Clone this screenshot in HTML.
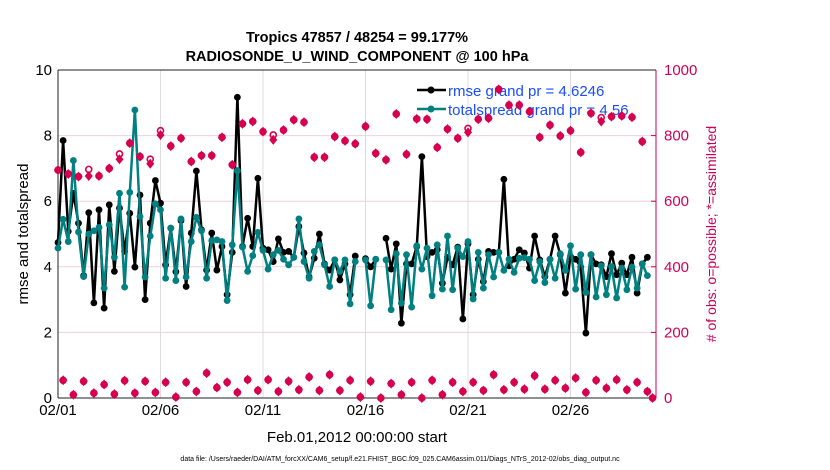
<!DOCTYPE html>
<html><head><meta charset="utf-8"><style>
body{margin:0;background:#fff;}
svg{display:block;font-family:"Liberation Sans",Arial,sans-serif;}
</style></head><body>
<svg id="chart" width="830" height="470" viewBox="0 0 830 470">
<rect width="830" height="470" fill="#fff"/>
<g id="grid"></g>
<g id="axes"></g>
<g id="legend">
  <line x1="417" y1="90" x2="446" y2="90" stroke="#000" stroke-width="2.5"/>
  <circle cx="431" cy="90" r="3.5" fill="#000"/>
  <text x="448" y="96" font-size="15" fill="#1a4dff">rmse grand pr = 4.6246</text>
  <line x1="417" y1="109" x2="446" y2="109" stroke="#008080" stroke-width="2.5"/>
  <circle cx="431" cy="109" r="3.5" fill="#008080"/>
  <text x="448" y="115" font-size="15" fill="#1a4dff">totalspread grand pr = 4.56</text>
</g>
<g id="series"></g>
<g id="obs"></g>
<text x="357" y="42" font-size="14.5" font-weight="bold" text-anchor="middle">Tropics 47857 / 48254 = 99.177%</text>
<text x="357" y="61" font-size="14.5" font-weight="bold" text-anchor="middle">RADIOSONDE_U_WIND_COMPONENT @ 100 hPa</text>
<text transform="translate(28,234) rotate(-90)" font-size="15" text-anchor="middle">rmse and totalspread</text>
<text transform="translate(716,234) rotate(-90)" font-size="14" fill="#cc0055" text-anchor="middle"># of obs: o=possible; *=assimilated</text>
<text x="357" y="442" font-size="15" text-anchor="middle">Feb.01,2012 00:00:00 start</text>
<text x="400" y="461" font-size="7" text-anchor="middle">data file: /Users/raeder/DAI/ATM_forcXX/CAM6_setup/f.e21.FHIST_BGC.f09_025.CAM6assim.011/Diags_NTrS_2012-02/obs_diag_output.nc</text>
</svg>
<script>
const rmse=[4.74,7.85,5.08,6.24,5.33,3.73,5.65,2.9,5.74,2.74,5.89,3.86,5.79,4.47,5.63,3.99,6.19,3.0,5.33,6.63,5.94,4.06,5.18,3.85,5.41,3.4,5.03,6.92,5.13,3.9,5.03,3.9,4.62,3.15,4.44,9.17,4.62,5.48,4.62,6.7,4.57,4.52,4.16,4.85,4.44,4.47,4.29,5.23,4.42,3.69,4.26,5.0,4.09,3.9,4.21,3.6,4.09,3.15,4.33,null,4.25,4.0,4.23,null,4.87,3.93,4.7,2.28,4.09,4.09,4.62,7.36,4.31,4.44,4.52,3.5,4.29,4.06,4.6,2.41,4.7,3.15,4.23,3.55,4.47,4.44,4.44,6.67,4.03,4.23,4.52,4.42,3.96,4.94,4.21,3.7,4.23,4.94,4.37,3.2,4.31,4.23,3.99,1.98,4.37,4.09,4.06,3.7,4.4,3.76,4.11,3.76,4.29,3.2,4.09,4.29,null];
const spread=[4.57,5.45,4.77,7.24,5.06,3.7,5.0,5.1,5.2,3.35,5.28,4.29,6.24,3.38,6.27,8.78,5.53,3.69,4.94,5.92,5.74,3.65,5.18,3.58,5.46,3.69,4.77,5.51,5.1,3.65,4.8,4.82,4.77,2.97,4.67,6.93,4.6,3.86,4.34,5.05,4.5,3.93,4.37,4.5,4.23,4.06,4.29,5.46,4.16,3.65,4.47,4.67,4.06,3.4,4.21,3.86,4.21,2.87,4.16,null,4.21,2.81,4.23,null,4.21,2.69,4.4,2.89,4.37,2.77,4.64,3.93,4.57,3.12,4.67,3.32,4.94,3.3,4.57,4.31,4.77,3.02,4.44,3.35,4.37,3.69,4.44,3.89,4.23,3.83,4.26,4.28,4.23,3.58,4.16,3.52,4.23,3.65,4.4,3.89,4.64,3.32,4.37,3.22,4.37,3.08,4.03,3.15,4.01,3.05,3.96,3.3,3.99,3.35,4.09,3.73,null];
const obsUsed=[695,54,683,10,675,51,677,15,677,41,700,12,728,53,777,15,736,51,714,17,802,48,768,3,792,48,721,20,739,76,739,32,795,48,711,17,836,56,843,23,812,56,787,20,817,51,848,25,841,64,734,23,734,71,797,23,784,54,775,3,828,51,746,0,726,44,866,10,743,48,851,0,850,54,764,10,820,48,792,20,810,48,850,23,853,71,941,25,893,48,893,27,873,68,795,27,832,54,799,30,815,61,749,17,868,54,843,30,858,56,860,25,856,48,782,20,0];
const obsPossible=[695,54,683,10,675,51,697,15,677,41,700,12,744,53,777,15,736,51,728,17,815,48,768,3,792,48,721,20,739,76,739,32,795,48,711,17,836,56,843,23,812,56,802,20,817,51,848,25,841,64,734,23,734,71,797,23,784,54,775,3,828,51,746,0,726,44,866,10,743,48,851,0,850,54,764,10,820,48,792,20,822,48,850,23,853,71,941,25,893,48,893,27,873,68,795,27,832,54,799,30,815,61,749,17,868,54,855,30,858,56,860,25,856,48,782,20,0];
const xTickDays=[1,6,11,16,21,26];
const xTickLabels=["02/01","02/06","02/11","02/16","02/21","02/26"];
const yTicks=[0,2,4,6,8,10];
const y2Ticks=[0,200,400,600,800,1000];
const startDay=1, stepDay=0.25;

const NS="http://www.w3.org/2000/svg";
const L=58,R=656,T=70,B=398;
const X=d=>L+(d-1)*20.5;
const Y=v=>B-(v/10)*(B-T);
const Y2=v=>B-(v/1000)*(B-T);
function mk(tag,attrs,parent){const e=document.createElementNS(NS,tag);for(const k in attrs)e.setAttribute(k,attrs[k]);parent.appendChild(e);return e;}
const grid=document.getElementById('grid'),axes=document.getElementById('axes'),ser=document.getElementById('series'),obs=document.getElementById('obs');
xTickDays.forEach((d,i)=>{
  const gl=mk('line',{x1:X(d),x2:X(d),y1:T,y2:B,stroke:'#dcdcdc','stroke-width':1},grid);
  
  
  const t=mk('text',{x:X(d),y:B+17,'font-size':15,'text-anchor':'middle'},axes);
  t.textContent=xTickLabels[i];
  
  
});
yTicks.forEach(v=>{
  if(v>0&&v<10){const gl=mk('line',{x1:L,x2:R,y1:Y(v),y2:Y(v),stroke:'#f0d0dc','stroke-width':1},grid);
  
  }
  const t=mk('text',{x:L-6,y:Y(v)+5,'font-size':15,'text-anchor':'end'},axes);
  t.textContent=v;
  
  
});
y2Ticks.forEach(v=>{
  mk('line',{x1:R-5,x2:R,y1:Y2(v),y2:Y2(v),stroke:'#cc0055'},axes);
  const t=mk('text',{x:R+8,y:Y2(v)+5,'font-size':15,fill:'#cc0055'},axes);
  t.textContent=v;
  
  
});
mk('line',{x1:L,x2:R,y1:T,y2:T,stroke:'#222'},axes);
mk('line',{x1:L,x2:R,y1:B,y2:B,stroke:'#222'},axes);
mk('line',{x1:L,x2:L,y1:T,y2:B,stroke:'#222'},axes);
mk('line',{x1:R,x2:R,y1:T,y2:B,stroke:'#cc0055'},axes);

function drawSeries(arr,color,name){
  let d='',pen=false;
  arr.forEach((v,i)=>{const x=X(startDay+i*stepDay);if(v==null){pen=false;return;}d+=(pen?'L':'M')+x.toFixed(1)+' '+Y(v).toFixed(1);pen=true;});
  const p=mk('path',{d:d,fill:'none',stroke:color,'stroke-width':2.5,'stroke-linejoin':'round'},ser);
  
  
  arr.forEach((v,i)=>{if(v==null)return;
    const c=mk('circle',{cx:X(startDay+i*stepDay),cy:Y(v),r:3.4,fill:color},ser);
    
    
  });
}
drawSeries(rmse,'#000','rmse');
drawSeries(spread,'#008080','totalspread');

obsPossible.forEach((v,i)=>{
  const c=mk('circle',{cx:X(startDay+i*stepDay),cy:Y2(v),r:3,fill:'none',stroke:'#d6004f','stroke-width':1.6},obs);
  
  
});
obsUsed.forEach((v,i)=>{
  const x=X(startDay+i*stepDay),y=Y2(v);
  const p=mk('path',{d:`M${x} ${y-5}L${x+4} ${y}L${x} ${y+5}L${x-4} ${y}Z`,fill:'#d6004f'},obs);
  
  
});
</script>
</body></html>
